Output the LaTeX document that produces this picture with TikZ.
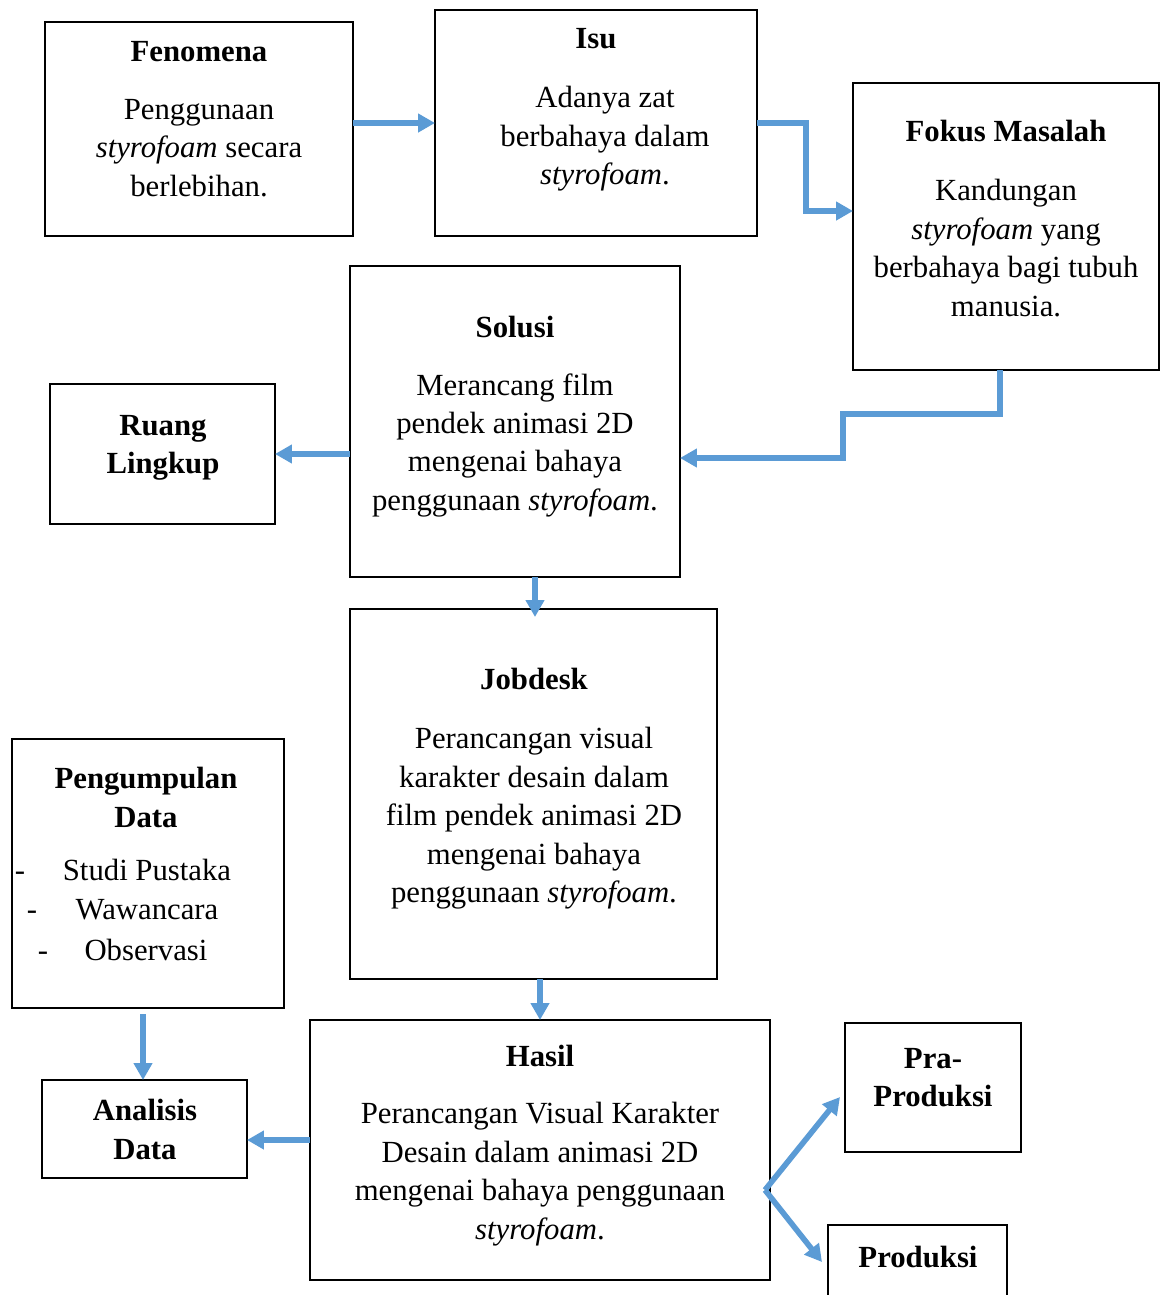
\documentclass[tikz,border=0pt]{standalone}
\usepackage{fontspec}
\setmainfont{Liberation Serif}
\usetikzlibrary{arrows.meta}
\definecolor{arrblue}{HTML}{5B9BD5}
\begin{document}
\begin{tikzpicture}[x=0.02cm,y=-0.02cm,
  box/.style={draw=black,line width=1.1pt,inner sep=0pt,outer sep=0pt},
  txt/.style={align=center,inner sep=0pt,anchor=north,font=\fontsize{17.5}{21.9}\selectfont},
  btxt/.style={txt,anchor=base},
  ttl/.style={txt,font=\fontsize{17.5}{21.9}\selectfont\bfseries},
  arr/.style={draw=arrblue,line width=3.2pt,-{Triangle[length=0.34cm,width=0.36cm]}}]
\useasboundingbox (0,0) rectangle (1161,1295);
% boxes
\node[box,minimum width=6.16cm,minimum height=4.28cm] (fen) at (199,129) {};
\node[box,minimum width=6.44cm,minimum height=4.52cm] (isu) at (596,123) {};
\node[box,minimum width=6.12cm,minimum height=5.74cm] (fokus) at (1006,226.5) {};
\node[box,minimum width=6.60cm,minimum height=6.22cm] (solusi) at (515,421.5) {};
\node[box,minimum width=4.50cm,minimum height=2.80cm] (ruang) at (162.5,454) {};
\node[box,minimum width=7.34cm,minimum height=7.40cm] (jobdesk) at (533.5,794) {};
\node[box,minimum width=5.44cm,minimum height=5.38cm] (peng) at (148,873.5) {};
\node[box,minimum width=4.10cm,minimum height=1.96cm] (analisis) at (144.5,1129) {};
\node[box,minimum width=9.20cm,minimum height=5.20cm] (hasil) at (540,1150) {};
\node[box,minimum width=3.52cm,minimum height=2.58cm] (pra) at (933,1087.5) {};
\node[box,minimum width=3.58cm,minimum height=1.70cm] (produksi) at (917.5,1267.5) {};
% texts
\node[ttl] (tfen) at (199,41) {Fenomena};
\node[txt] (bfen) at (199,99) {Penggunaan\\\textit{styrofoam} secara\\berlebihan.};
\node[ttl] (tisu) at (596,28) {Isu};
\node[txt] (bisu) at (605,86) {Adanya zat\\berbahaya dalam\\\textit{styrofoam}.};
\node[ttl] (tfokus) at (1006,120) {Fokus Masalah};
\node[txt] (bfokus) at (1006,179) {Kandungan\\\textit{styrofoam} yang\\berbahaya bagi tubuh\\manusia.};
\node[ttl] (tsolusi) at (515,316) {Solusi};
\node[txt] (bsolusi) at (515,373) {Merancang film\\pendek animasi 2D\\mengenai bahaya\\penggunaan \textit{styrofoam}.};
\node[ttl] (truang) at (163,415) {Ruang\\Lingkup};
\node[ttl] (tjob) at (534,668) {Jobdesk};
\node[txt] (bjob) at (534,727) {Perancangan visual\\karakter desain dalam\\film pendek animasi 2D\\mengenai bahaya\\penggunaan \textit{styrofoam}.};
\node[ttl] (tpeng) at (146,767) {Pengumpulan\\Data};
\node[btxt] (d1) at (20,880) {-};
\node[btxt] (d2) at (32,919) {-};
\node[btxt] (d3) at (43,960) {-};
\node[btxt] (p1) at (147,880) {Studi Pustaka};
\node[btxt] (p2) at (147,919) {Wawancara};
\node[btxt] (p3) at (146,960) {Observasi};
\node[ttl] (tanal) at (145,1099) {Analisis\\Data};
\node[ttl] (thasil) at (540,1045) {Hasil};
\node[txt] (bhasil) at (540,1102) {Perancangan Visual Karakter\\Desain dalam animasi 2D\\mengenai bahaya penggunaan\\\textit{styrofoam}.};
\node[ttl] (tpra) at (933,1048) {Pra-\\Produksi};
\node[ttl] (tprod) at (918,1246) {Produksi};
% connectors
\draw[arr] (fen.east |- isu.west) -- (isu.west);
\draw[arr] (isu.east) -- (806,123) -- (806,211) -- (fokus.west |- 806,211);
\draw[arr] (fokus.south -| 1000,0) -- (1000,414) -- (843,414) -- (843,458) -- (solusi.east |- 843,458);
\draw[arr] (solusi.west |- ruang.east) -- (ruang.east);
\draw[arr] (solusi.south -| 535,0) -- (535,617);
\draw[arr] (jobdesk.south -| 540,0) -- (hasil.north -| 540,0);
\draw[arr] (143,1014) -- (analisis.north -| 143,0);
\draw[arr] (hasil.west |- 0,1140) -- (analisis.east |- 0,1140);
\coordinate (split) at (765,1190);
\draw[arr] (split) -- (840,1097);
\draw[arr] (split) -- (822,1262);
\end{tikzpicture}
\end{document}
